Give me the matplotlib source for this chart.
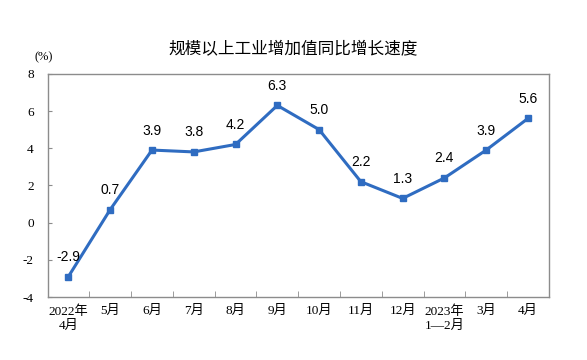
import matplotlib.pyplot as plt
import numpy as np

plt.rcParams['font.family'] = ['Liberation Serif', 'Noto Sans CJK SC']

months = ['2022年\n4月', '5月', '6月', '7月', '8月', '9月', '10月',
          '11月', '12月', '2023年\n1—2月', '3月', '4月']
growth = [-2.9, 0.7, 3.9, 3.8, 4.2, 6.3, 5.0, 2.2, 1.3, 2.4, 3.9, 5.6]
yticks = [-4, -2, 0, 2, 4, 6, 8]

line_color = '#2F6CC1'
frame_color = '#8C8C8C'

fig = plt.figure(figsize=(5.87, 3.6), dpi=100)
ax = fig.add_axes([0.081, 0.175, 0.854, 0.62])

x = np.arange(len(months))
ax.plot(x, growth, color=line_color, lw=2.2, marker='s', ms=4, zorder=3)

for xi, v in zip(x, growth):
    ax.annotate(f'{v:.1f}', (xi, v), xytext=(0, 9), textcoords='offset points',
                ha='center', va='bottom', fontsize=10,
                family=['Liberation Sans', 'DejaVu Sans'])

ax.set_xlim(-0.5, len(months) - 0.5)
ax.set_ylim(-4, 8)
ax.set_yticks(yticks)
ax.set_yticklabels([str(t) for t in yticks], fontsize=9.5)

# category labels at centres, tick marks at boundaries
ax.set_xticks(x)
ax.set_xticklabels(months, fontsize=9.5, linespacing=1.25)
ax.tick_params(axis='x', length=0, pad=6)
ax.set_xticks(np.arange(0.5, len(months) - 0.5, 1), minor=True)
ax.tick_params(axis='x', which='minor', direction='in', length=4, color=frame_color)
ax.tick_params(axis='y', direction='in', length=3, color=frame_color, pad=10)

for s in ax.spines.values():
    s.set_color(frame_color)
    s.set_linewidth(1)

fig.text(0.075, 0.842, '(%)', fontsize=9, ha='center', va='center')
fig.text(0.5, 0.862, '规模以上工业增加值同比增长速度', fontsize=12, ha='center',
         va='center', family=['Noto Sans CJK SC', 'DejaVu Sans'])

fig.savefig('out.png', dpi=100)
